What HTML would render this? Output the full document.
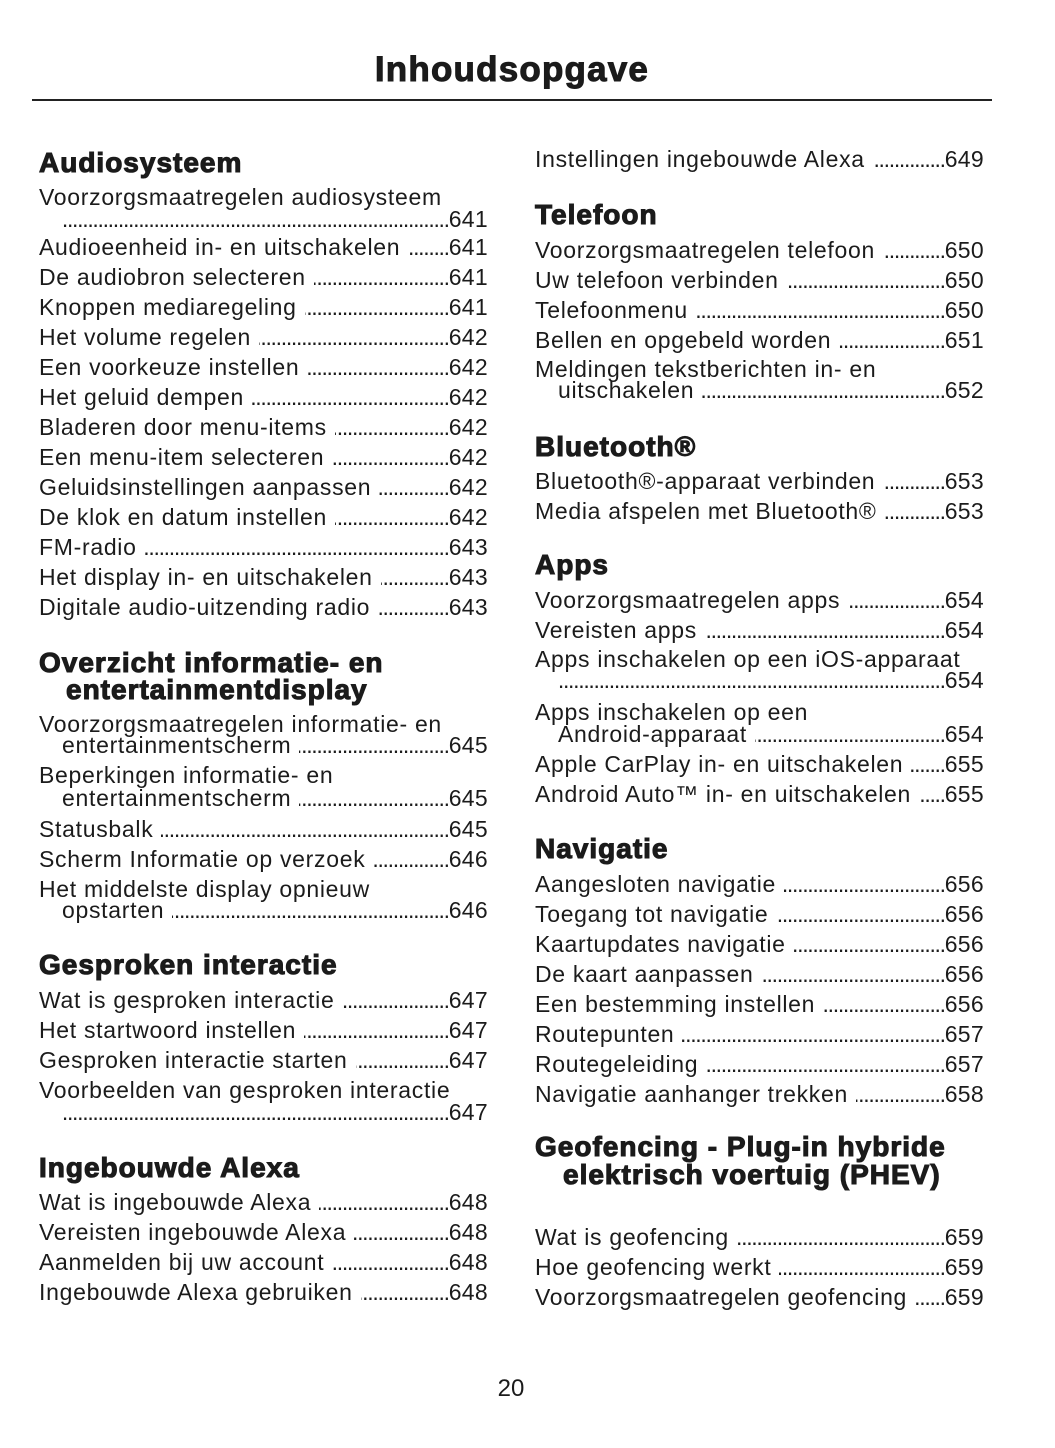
<!DOCTYPE html>
<html>
<head>
<meta charset="utf-8">
<style>
html,body{margin:0;padding:0;background:#fff;}
body{width:1055px;height:1448px;position:relative;overflow:hidden;color:#1b1b1b;font-family:"Liberation Sans",Arial,sans-serif;}
.title{position:absolute;left:0;width:1024px;top:52px;text-align:center;font-size:35px;line-height:35px;font-weight:bold;letter-spacing:1.2px;-webkit-text-stroke:1px #1b1b1b;white-space:nowrap;}
.rule{position:absolute;left:32px;top:99px;width:960px;height:1.5px;background:#222;}
.h{position:absolute;font-size:28px;line-height:28px;font-weight:bold;letter-spacing:1px;-webkit-text-stroke:1.1px #1b1b1b;white-space:nowrap;}
.e{position:absolute;display:flex;font-size:23px;line-height:23px;letter-spacing:0.7px;white-space:nowrap;}
.t{flex:0 0 auto;}
.f{flex:1 1 0;min-width:0;overflow:hidden;direction:rtl;margin-left:8px;letter-spacing:-1.3px;}
.f::before{content:"......................................................................................................................";}
.n{flex:0 0 auto;letter-spacing:0.3px;}
.L{left:39px;width:449px;}
.Li{left:62px;width:426px;}
.R{left:535px;width:449px;}
.Ri{left:558px;width:426px;}
.pg{position:absolute;left:0;width:1022px;text-align:center;top:1377px;font-size:24px;line-height:24px;}
</style>
</head>
<body>
<div class="title">Inhoudsopgave</div>
<div class="rule"></div>

<!-- LEFT COLUMN -->
<div class="h" style="left:39px;top:149px">Audiosysteem</div>
<div class="e L" style="top:185.5px"><span class="t">Voorzorgsmaatregelen audiosysteem</span></div>
<div class="e Li" style="top:207.5px"><span class="f" style="margin-left:0"></span><span class="n">641</span></div>
<div class="e L" style="top:235.5px"><span class="t">Audioeenheid in- en uitschakelen</span><span class="f"></span><span class="n">641</span></div>
<div class="e L" style="top:265.5px"><span class="t">De audiobron selecteren</span><span class="f"></span><span class="n">641</span></div>
<div class="e L" style="top:295.5px"><span class="t">Knoppen mediaregeling</span><span class="f"></span><span class="n">641</span></div>
<div class="e L" style="top:325.5px"><span class="t">Het volume regelen</span><span class="f"></span><span class="n">642</span></div>
<div class="e L" style="top:355.5px"><span class="t">Een voorkeuze instellen</span><span class="f"></span><span class="n">642</span></div>
<div class="e L" style="top:385.5px"><span class="t">Het geluid dempen</span><span class="f"></span><span class="n">642</span></div>
<div class="e L" style="top:415.5px"><span class="t">Bladeren door menu-items</span><span class="f"></span><span class="n">642</span></div>
<div class="e L" style="top:445.5px"><span class="t">Een menu-item selecteren</span><span class="f"></span><span class="n">642</span></div>
<div class="e L" style="top:475.5px"><span class="t">Geluidsinstellingen aanpassen</span><span class="f"></span><span class="n">642</span></div>
<div class="e L" style="top:505.5px"><span class="t">De klok en datum instellen</span><span class="f"></span><span class="n">642</span></div>
<div class="e L" style="top:535.5px"><span class="t">FM-radio </span><span class="f"></span><span class="n">643</span></div>
<div class="e L" style="top:565.5px"><span class="t">Het display in- en uitschakelen</span><span class="f"></span><span class="n">643</span></div>
<div class="e L" style="top:595.5px"><span class="t">Digitale audio-uitzending radio</span><span class="f"></span><span class="n">643</span></div>

<div class="h" style="left:39px;top:649px">Overzicht informatie- en</div>
<div class="h" style="left:66px;top:676px">entertainmentdisplay</div>
<div class="e L" style="top:712.5px"><span class="t">Voorzorgsmaatregelen informatie- en</span></div>
<div class="e Li" style="top:733.5px"><span class="t">entertainmentscherm</span><span class="f"></span><span class="n">645</span></div>
<div class="e L" style="top:763.5px"><span class="t">Beperkingen informatie- en</span></div>
<div class="e Li" style="top:786.5px"><span class="t">entertainmentscherm</span><span class="f"></span><span class="n">645</span></div>
<div class="e L" style="top:817.5px"><span class="t">Statusbalk </span><span class="f"></span><span class="n">645</span></div>
<div class="e L" style="top:847.5px"><span class="t">Scherm Informatie op verzoek</span><span class="f"></span><span class="n">646</span></div>
<div class="e L" style="top:877.5px"><span class="t">Het middelste display opnieuw</span></div>
<div class="e Li" style="top:898.5px"><span class="t">opstarten </span><span class="f"></span><span class="n">646</span></div>

<div class="h" style="left:39px;top:951px">Gesproken interactie</div>
<div class="e L" style="top:988.5px"><span class="t">Wat is gesproken interactie</span><span class="f"></span><span class="n">647</span></div>
<div class="e L" style="top:1018.5px"><span class="t">Het startwoord instellen</span><span class="f"></span><span class="n">647</span></div>
<div class="e L" style="top:1048.5px"><span class="t">Gesproken interactie starten</span><span class="f"></span><span class="n">647</span></div>
<div class="e L" style="top:1078.5px"><span class="t">Voorbeelden van gesproken interactie</span></div>
<div class="e Li" style="top:1100.5px"><span class="f" style="margin-left:0"></span><span class="n">647</span></div>

<div class="h" style="left:39px;top:1154px">Ingebouwde Alexa</div>
<div class="e L" style="top:1190.5px"><span class="t">Wat is ingebouwde Alexa</span><span class="f"></span><span class="n">648</span></div>
<div class="e L" style="top:1220.5px"><span class="t">Vereisten ingebouwde Alexa</span><span class="f"></span><span class="n">648</span></div>
<div class="e L" style="top:1250.5px"><span class="t">Aanmelden bij uw account</span><span class="f"></span><span class="n">648</span></div>
<div class="e L" style="top:1280.5px"><span class="t">Ingebouwde Alexa gebruiken</span><span class="f"></span><span class="n">648</span></div>

<!-- RIGHT COLUMN -->
<div class="e R" style="top:147.5px"><span class="t">Instellingen ingebouwde Alexa</span><span class="f"></span><span class="n">649</span></div>

<div class="h" style="left:535px;top:201px">Telefoon</div>
<div class="e R" style="top:238.5px"><span class="t">Voorzorgsmaatregelen telefoon</span><span class="f"></span><span class="n">650</span></div>
<div class="e R" style="top:268.5px"><span class="t">Uw telefoon verbinden</span><span class="f"></span><span class="n">650</span></div>
<div class="e R" style="top:298.5px"><span class="t">Telefoonmenu</span><span class="f"></span><span class="n">650</span></div>
<div class="e R" style="top:328.5px"><span class="t">Bellen en opgebeld worden</span><span class="f"></span><span class="n">651</span></div>
<div class="e R" style="top:357.5px"><span class="t">Meldingen tekstberichten in- en</span></div>
<div class="e Ri" style="top:378.5px"><span class="t">uitschakelen</span><span class="f"></span><span class="n">652</span></div>

<div class="h" style="left:535px;top:433px">Bluetooth®</div>
<div class="e R" style="top:469.5px"><span class="t">Bluetooth®-apparaat verbinden</span><span class="f"></span><span class="n">653</span></div>
<div class="e R" style="top:499.5px"><span class="t">Media afspelen met Bluetooth®</span><span class="f"></span><span class="n">653</span></div>

<div class="h" style="left:535px;top:551px">Apps</div>
<div class="e R" style="top:588.5px"><span class="t">Voorzorgsmaatregelen apps</span><span class="f"></span><span class="n">654</span></div>
<div class="e R" style="top:618.5px"><span class="t">Vereisten apps</span><span class="f"></span><span class="n">654</span></div>
<div class="e R" style="top:647.5px"><span class="t">Apps inschakelen op een iOS-apparaat</span></div>
<div class="e Ri" style="top:668.5px"><span class="f" style="margin-left:0"></span><span class="n">654</span></div>
<div class="e R" style="top:700.5px"><span class="t">Apps inschakelen op een</span></div>
<div class="e Ri" style="top:722.5px"><span class="t">Android-apparaat</span><span class="f"></span><span class="n">654</span></div>
<div class="e R" style="top:752.5px"><span class="t">Apple CarPlay in- en uitschakelen</span><span class="f"></span><span class="n">655</span></div>
<div class="e R" style="top:782.5px"><span class="t">Android Auto™ in- en uitschakelen</span><span class="f"></span><span class="n">655</span></div>

<div class="h" style="left:535px;top:835px">Navigatie</div>
<div class="e R" style="top:872.5px"><span class="t">Aangesloten navigatie</span><span class="f"></span><span class="n">656</span></div>
<div class="e R" style="top:902.5px"><span class="t">Toegang tot navigatie</span><span class="f"></span><span class="n">656</span></div>
<div class="e R" style="top:932.5px"><span class="t">Kaartupdates navigatie</span><span class="f"></span><span class="n">656</span></div>
<div class="e R" style="top:962.5px"><span class="t">De kaart aanpassen</span><span class="f"></span><span class="n">656</span></div>
<div class="e R" style="top:992.5px"><span class="t">Een bestemming instellen</span><span class="f"></span><span class="n">656</span></div>
<div class="e R" style="top:1022.5px"><span class="t">Routepunten</span><span class="f"></span><span class="n">657</span></div>
<div class="e R" style="top:1052.5px"><span class="t">Routegeleiding</span><span class="f"></span><span class="n">657</span></div>
<div class="e R" style="top:1082.5px"><span class="t">Navigatie aanhanger trekken</span><span class="f"></span><span class="n">658</span></div>

<div class="h" style="left:535px;top:1133px">Geofencing - Plug-in hybride</div>
<div class="h" style="left:563px;top:1161px">elektrisch voertuig (PHEV)</div>
<div class="e R" style="top:1225.5px"><span class="t">Wat is geofencing</span><span class="f"></span><span class="n">659</span></div>
<div class="e R" style="top:1255.5px"><span class="t">Hoe geofencing werkt</span><span class="f"></span><span class="n">659</span></div>
<div class="e R" style="top:1285.5px"><span class="t">Voorzorgsmaatregelen geofencing</span><span class="f"></span><span class="n">659</span></div>

<div class="pg">20</div>
</body>
</html>
